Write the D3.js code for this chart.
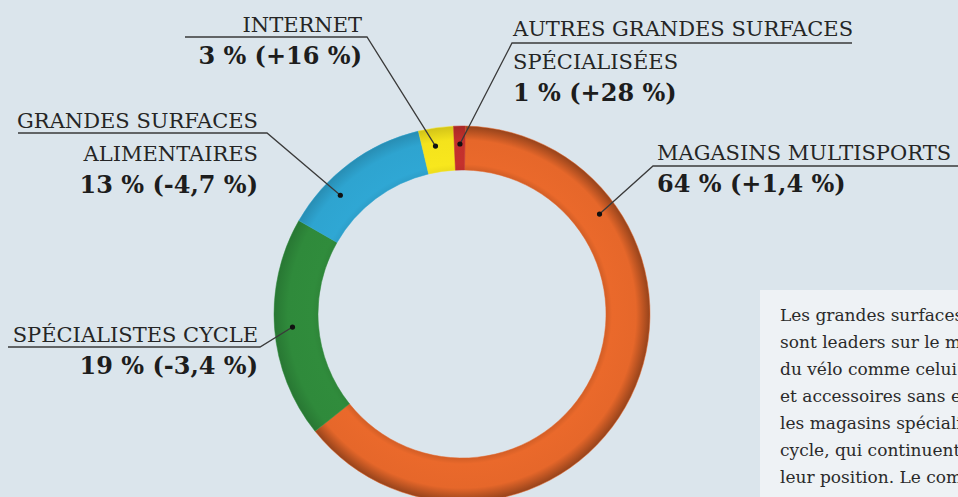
<!DOCTYPE html>
<html lang="fr">
<head>
<meta charset="utf-8">
<title>Circuits de distribution du vélo</title>
<script src="https://cdn.jsdelivr.net/npm/d3@7"></script>
<style>
  html, body { margin: 0; padding: 0; background: #dbe5ec; overflow: hidden; }
  svg { display: block; }
  .name { font-family: "DejaVu Serif", serif; font-size: 21px; fill: #252525; }
  .value { font-family: "DejaVu Serif", serif; font-weight: bold; font-size: 24px; fill: #1d1d1d; }
  .note { font-family: "DejaVu Serif", serif; font-size: 17px; fill: #2a2a2a; }
  .leader { fill: none; stroke: #3a3a3a; stroke-width: 1.3px; }
</style>
</head>
<body>
<svg id="chart" width="958" height="497"></svg>
<script>
// parts de marché par circuit (%) et évolution
var categories = ["MAGASINS MULTISPORTS", "SPÉCIALISTES CYCLE", "GRANDES SURFACES ALIMENTAIRES", "INTERNET", "AUTRES GRANDES SURFACES SPÉCIALISÉES"];
var shares = [64, 19, 13, 3, 1];
var changes = ["+1,4 %", "-3,4 %", "-4,7 %", "+16 %", "+28 %"];
var colors = ["#e6672a", "#2f8a3b", "#2ea4d0", "#f4e31c", "#c2302c"];

// lignes des étiquettes (le nom est coupé comme dans l'original)
var nameLines = [
  ["MAGASINS MULTISPORTS"],
  ["SPÉCIALISTES CYCLE"],
  ["GRANDES SURFACES", "ALIMENTAIRES"],
  ["INTERNET"],
  ["AUTRES GRANDES SURFACES", "SPÉCIALISÉES"]
];

// encadré (coupé par le bord droit, comme sur l'original)
var noteLines = [
  "Les grandes surfaces de sport",
  "sont leaders sur le marché",
  "du vélo comme celui des pièces",
  "et accessoires sans exclure",
  "les magasins spécialistes",
  "cycle, qui continuent à tenir",
  "leur position. Le commerce"
];

var svg = d3.select("#chart"),
    width = +svg.attr("width"),
    height = +svg.attr("height");

var cx = 462, cy = 314,
    rIn = 144, rOut = 188, rDot = 170;

var rad = function (deg) { return deg * Math.PI / 180; };

var data = categories.map(function (c, i) {
  return { name: c, share: shares[i], change: changes[i], color: colors[i], lines: nameLines[i] };
});

var pie = d3.pie()
  .sort(null)
  .startAngle(rad(1))
  .endAngle(rad(361))
  .value(function (d) { return d.share; });

var arc = d3.arc().innerRadius(rIn).outerRadius(rOut);
var arcs = pie(data);

var defs = svg.append("defs");
arcs.forEach(function (d, i) {
  var c = d3.color(d.data.color);
  var grad = defs.append("radialGradient")
    .attr("id", "shade" + i)
    .attr("gradientUnits", "userSpaceOnUse")
    .attr("cx", 0).attr("cy", 0).attr("r", rOut);
  var k = i === 0 ? 1 : 0.35;
  grad.append("stop").attr("offset", rIn / rOut).attr("stop-color", c.darker(0.25 * k));
  grad.append("stop").attr("offset", (rIn + 6) / rOut).attr("stop-color", c.brighter(0.05));
  grad.append("stop").attr("offset", (rOut - 14) / rOut).attr("stop-color", c);
  grad.append("stop").attr("offset", 1).attr("stop-color", c.darker(1.2 * k));
});

// encadré de texte à droite
svg.append("rect")
  .attr("x", 760).attr("y", 290)
  .attr("width", width - 760).attr("height", height - 290)
  .attr("fill", "#eef2f5");

svg.append("g")
  .selectAll("text")
  .data(noteLines)
  .enter().append("text")
  .attr("class", "note")
  .attr("x", 780)
  .attr("y", function (d, i) { return 321 + i * 27; })
  .text(function (d) { return d; });

var ring = svg.append("g").attr("transform", "translate(" + cx + "," + cy + ")");

ring.selectAll("path")
  .data(arcs)
  .enter().append("path")
  .attr("d", arc)
  .attr("fill", function (d, i) { return "url(#shade" + i + ")"; })
  .attr("stroke", function (d) { return d.data.color; })
  .attr("stroke-width", 0.5);

// position du point sur chaque segment (fraction de l'angle du segment)
var dotFrac = [0.23, 0.5, 0.31, 0.41, 0.53];
arcs.forEach(function (d, i) {
  var a = d.startAngle + dotFrac[i] * (d.endAngle - d.startAngle);
  d.dot = [cx + rDot * Math.sin(a), cy - rDot * Math.cos(a)];
});

// mise en page des étiquettes : coude du trait, soulignement, ancrage du texte
var labelLayout = [
  { x: 657, y: 160, anchor: "start", elbow: [653, 166], lineEnd: 960 },
  { x: 258, y: 342, anchor: "end", elbow: [260, 347], lineEnd: 8 },
  { x: 258, y: 128, anchor: "end", elbow: [267, 133], lineEnd: 18 },
  { x: 362, y: 32, anchor: "end", elbow: [367, 37], lineEnd: 185 },
  { x: 513, y: 36, anchor: "start", elbow: [512, 43], lineEnd: 852 }
];
var lineStep = 33;

var labels = svg.append("g").selectAll("g")
  .data(arcs)
  .enter().append("g");

labels.append("polyline")
  .attr("class", "leader")
  .attr("points", function (d, i) {
    var L = labelLayout[i];
    return [d.dot, L.elbow, [L.lineEnd, L.elbow[1]]].map(function (p) { return p.join(","); }).join(" ");
  });

labels.append("circle")
  .attr("cx", function (d) { return d.dot[0]; })
  .attr("cy", function (d) { return d.dot[1]; })
  .attr("r", 2.6)
  .attr("fill", "#111");

labels.each(function (d, i) {
  var L = labelLayout[i];
  var g = d3.select(this);
  d.data.lines.forEach(function (line, j) {
    g.append("text")
      .attr("class", "name")
      .attr("x", L.x)
      .attr("y", L.y + j * lineStep)
      .attr("text-anchor", L.anchor)
      .text(line);
  });
  g.append("text")
    .attr("class", "value")
    .attr("x", L.x)
    .attr("y", L.y + d.data.lines.length * lineStep - 1)
    .attr("text-anchor", L.anchor)
    .text(d.data.share + " % (" + d.data.change + ")");
});
</script>
</body>
</html>
